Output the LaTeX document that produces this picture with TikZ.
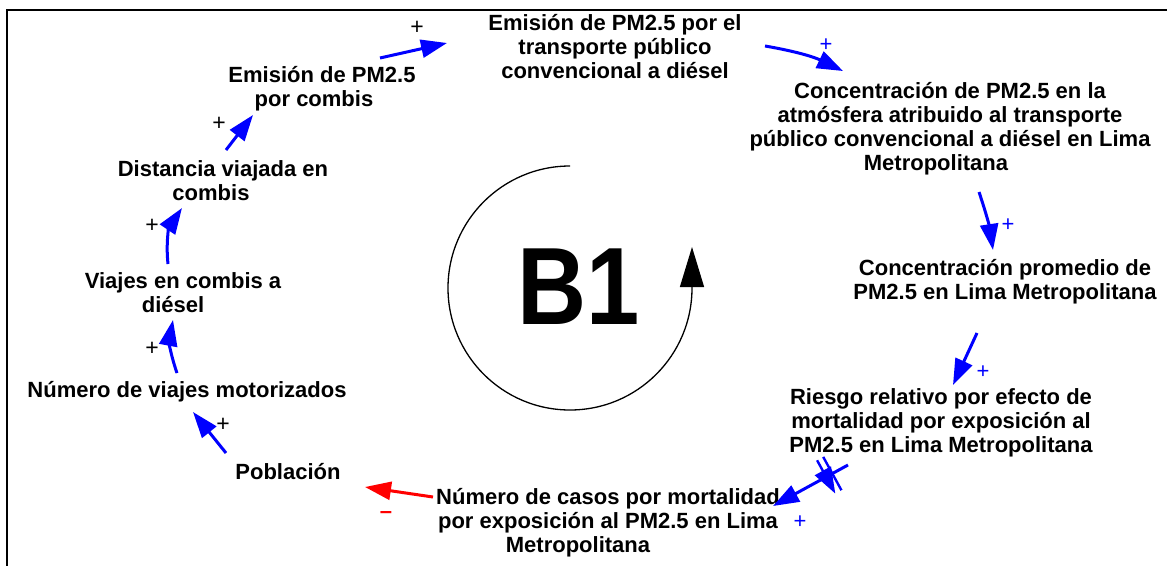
\documentclass[tikz,border=0pt]{standalone}
\usepackage{fontspec}
\setmainfont{Liberation Sans}
\usetikzlibrary{arrows.meta,decorations.markings}
\begin{document}
\begin{tikzpicture}[x=1pt,y=1pt,
  var/.style={font=\fontsize{22}{24}\selectfont\bfseries, align=center, inner sep=0pt, text=black},
  link/.style={draw=blue, line width=3pt, -{Triangle[length=26pt,width=18pt]}},
  neglink/.style={draw=red, line width=3pt, -{Triangle[length=26pt,width=18pt]}},
  blacksign/.style={font=\fontsize{23}{23}\selectfont, inner sep=0pt, text=black},
  bluesign/.style={font=\fontsize{22}{22}\selectfont, inner sep=0pt, text=blue},
  redsign/.style={font=\fontsize{22}{22}\selectfont\bfseries, inner sep=0pt, text=red},
  delaymark/.style={decoration={markings, mark=at position 0.25 with {\draw[blue,line width=2.4pt] (-3.5pt,-19pt) -- (-3.5pt,19pt) (3.5pt,-19pt) -- (3.5pt,19pt);}}, postaction={decorate}}
]
\useasboundingbox (0,0) rectangle (1167,-565);
\fill[white] (0,0) rectangle (1167,-565);
\draw[line width=2.5pt] (7,-570) -- (7,-10) -- (1172,-10);

\node[var] (A) at (615,-47) {Emisión de PM2.5 por el\\transporte público\\convencional a diésel};
\node[var] (B) at (950,-129) {Concentración de PM2.5 en la\\atmósfera atribuido al transporte\\público convencional a diésel en Lima\\Metropolitana\kern28pt};
\node[var] (C) at (1005,-282) {Concentración promedio de\\PM2.5 en Lima Metropolitana};
\node[var] (D) at (941,-423) {Riesgo relativo por efecto de\\mortalidad por exposición al\\PM2.5 en Lima Metropolitana};
\node[var] (E) at (608,-523) {Número de casos por mortalidad\\por exposición al PM2.5 en Lima\\Metropolitana\kern60pt};
\node[var] (F) at (288,-472) {Población};
\node[var] (G) at (187,-392) {Número de viajes motorizados};
\node[var] (H) at (183,-293) {Viajes en combis a\\diésel\kern20pt};
\node[var] (I) at (223,-181) {Distancia viajada en\\combis\kern24pt};
\node[var] (J) at (322,-89) {Emisión de PM2.5\\por combis\kern16pt};

\draw[link] ([shift={(58,31)}]J.center) -- ([shift={(-168,4)}]A.center);
\draw[link] ([shift={(150,1)}]A.center) to[bend left=8] ([shift={(-107,58)}]B.center);
\draw[link] ([shift={(29,-63)}]B.center) to[bend left=5] ([shift={(-12,32)}]C.center);
\draw[link] ([shift={(-28,-51)}]C.center) -- ([shift={(12,38)}]D.center);
\draw[link, delaymark] ([shift={(-93,-42)}]D.center) -- ([shift={(165,17)}]E.center);
\draw[neglink] ([shift={(-175,26)}]E.center) -- ([shift={(77,-15)}]F.center);
\draw[link] ([shift={(-62,19)}]F.center) -- ([shift={(6,-20)}]G.center);
\draw[link] ([shift={(-10,19)}]G.center) to[bend left=15] ([shift={(-10,-27)}]H.center);
\draw[link] ([shift={(-15,29)}]H.center) to[bend left=20] ([shift={(-41,-27)}]I.center);
\draw[link] ([shift={(3,31)}]I.center) -- ([shift={(-69,-26)}]J.center);

\node[blacksign] (s1) at (417,-28) {+};
\node[bluesign] (s2) at (826,-45) {+};
\node[bluesign] (s3) at (1008,-225) {+};
\node[bluesign] (s4) at (983,-372) {+};
\node[bluesign] (s5) at (800,-522) {+};
\node[redsign] (s6) at (386,-515) {–};
\node[blacksign] (s7) at (223,-425) {+};
\node[blacksign] (s8) at (152,-349) {+};
\node[blacksign] (s9) at (152,-226) {+};
\node[blacksign] (s10) at (219,-124) {+};

\node[font=\fontsize{110}{110}\selectfont\bfseries, inner sep=0pt] (loop) at (579,-287) {\scalebox{0.87}[1]{B1}};
\draw[line width=1.3pt, -{Triangle[length=40pt,width=24pt]}] (570,-166) arc[start angle=90, end angle=360, radius=122] -- ++(0,41);
\end{tikzpicture}
\end{document}
